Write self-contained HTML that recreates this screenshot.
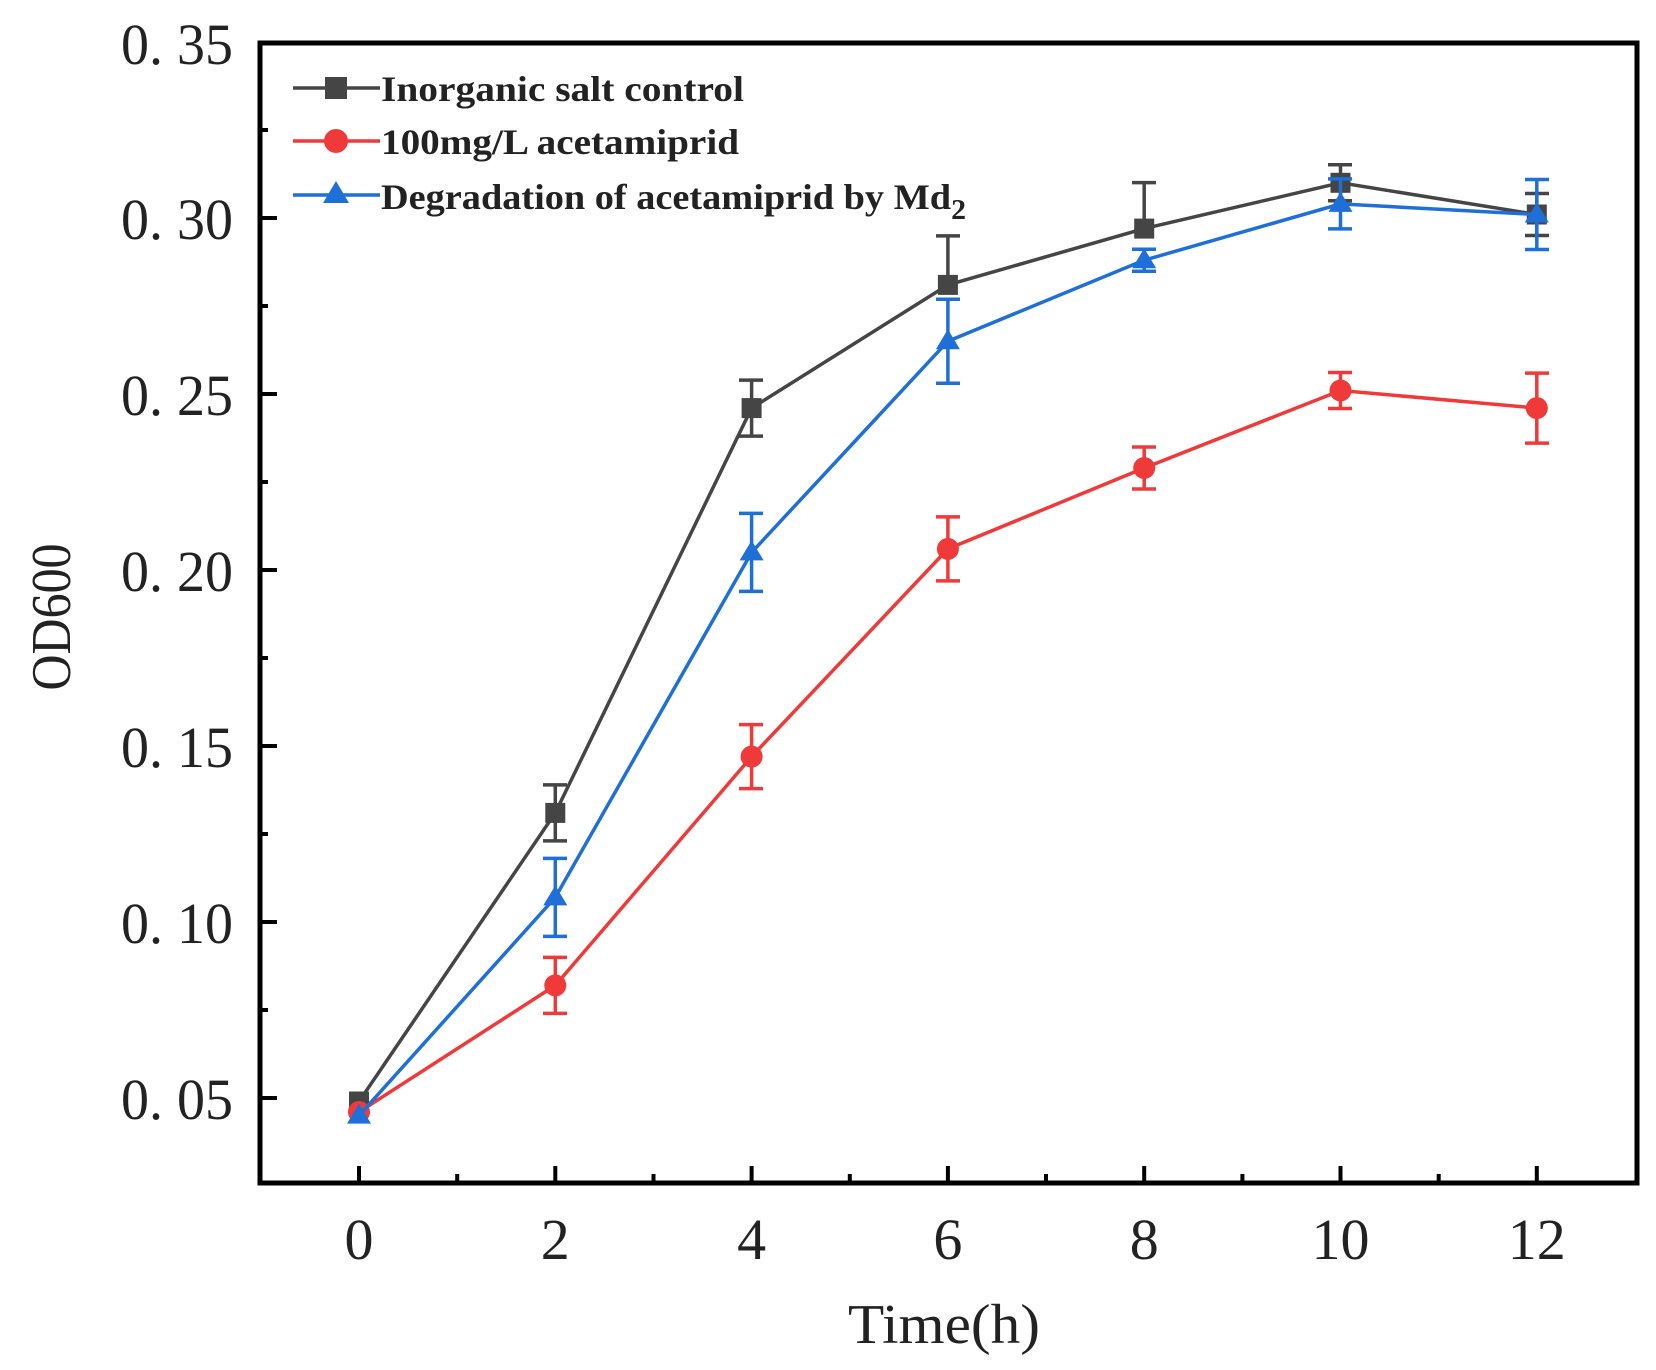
<!DOCTYPE html>
<html><head><meta charset="utf-8"><style>html,body{margin:0;padding:0;background:#fff}svg{display:block}</style></head>
<body>
<svg width="1656" height="1370" viewBox="0 0 1656 1370" xmlns="http://www.w3.org/2000/svg">
<rect width="1656" height="1370" fill="#fff"/>
<rect x="260" y="43" width="1377" height="1140" fill="none" stroke="#000" stroke-width="5"/>
<g stroke="#000" stroke-width="4">
<line x1="359" y1="1183" x2="359" y2="1166"/><line x1="555.3" y1="1183" x2="555.3" y2="1166"/>
<line x1="751.6" y1="1183" x2="751.6" y2="1166"/><line x1="947.9" y1="1183" x2="947.9" y2="1166"/>
<line x1="1144.2" y1="1183" x2="1144.2" y2="1166"/><line x1="1340.5" y1="1183" x2="1340.5" y2="1166"/>
<line x1="1536.8" y1="1183" x2="1536.8" y2="1166"/>
<line x1="457.2" y1="1183" x2="457.2" y2="1174"/><line x1="653.5" y1="1183" x2="653.5" y2="1174"/>
<line x1="849.8" y1="1183" x2="849.8" y2="1174"/><line x1="1046" y1="1183" x2="1046" y2="1174"/>
<line x1="1242.4" y1="1183" x2="1242.4" y2="1174"/><line x1="1438.7" y1="1183" x2="1438.7" y2="1174"/>
<line x1="260" y1="1098" x2="277" y2="1098"/><line x1="260" y1="922" x2="277" y2="922"/>
<line x1="260" y1="746" x2="277" y2="746"/><line x1="260" y1="570" x2="277" y2="570"/>
<line x1="260" y1="394" x2="277" y2="394"/><line x1="260" y1="218" x2="277" y2="218"/>
<line x1="260" y1="1010" x2="268" y2="1010"/><line x1="260" y1="834" x2="268" y2="834"/>
<line x1="260" y1="658" x2="268" y2="658"/><line x1="260" y1="482" x2="268" y2="482"/>
<line x1="260" y1="306" x2="268" y2="306"/><line x1="260" y1="130" x2="268" y2="130"/>
</g>
<g font-family="'Liberation Serif', serif" font-size="58" fill="#222" text-anchor="end">
<text x="233" y="1119" textLength="112" lengthAdjust="spacingAndGlyphs">0. 05</text>
<text x="233" y="943" textLength="112" lengthAdjust="spacingAndGlyphs">0. 10</text>
<text x="233" y="767" textLength="112" lengthAdjust="spacingAndGlyphs">0. 15</text>
<text x="233" y="591" textLength="112" lengthAdjust="spacingAndGlyphs">0. 20</text>
<text x="233" y="415" textLength="112" lengthAdjust="spacingAndGlyphs">0. 25</text>
<text x="233" y="239" textLength="112" lengthAdjust="spacingAndGlyphs">0. 30</text>
<text x="233" y="64" textLength="112" lengthAdjust="spacingAndGlyphs">0. 35</text>
</g>
<g font-family="'Liberation Serif', serif" font-size="58" fill="#222" text-anchor="middle">
<text x="359" y="1259">0</text><text x="555.3" y="1259">2</text><text x="751.6" y="1259">4</text>
<text x="947.9" y="1259">6</text><text x="1144.2" y="1259">8</text><text x="1340.5" y="1259">10</text>
<text x="1536.8" y="1259">12</text>
<text x="944" y="1343" font-size="56" textLength="192" lengthAdjust="spacingAndGlyphs">Time(h)</text>
<text transform="translate(70,617) rotate(-90)" font-size="56" textLength="147" lengthAdjust="spacingAndGlyphs">OD600</text>
</g>
<g stroke="#454545" stroke-width="3.5" fill="none">
<polyline points="359,1101.5 555.3,812.9 751.6,408.1 947.9,284.9 1144.2,228.6 1340.5,182.8 1536.8,214.5"/>
<path d="M555.3,784.9V840.9M543,784.9h24M543,840.9h24M751.6,380.1V436.1M739,380.1h24M739,436.1h24M947.9,235.9V284.9M936,235.9h24M1144.2,182.6V228.6M1132,182.6h24M1340.5,164.8V200.8M1328,164.8h24M1328,200.8h24M1536.8,193.5V235.5M1525,193.5h24M1525,235.5h24"/>
</g>
<g fill="#454545">
<rect x="349" y="1091.5" width="20" height="20"/><rect x="545.3" y="802.9" width="20" height="20"/>
<rect x="741.6" y="398.1" width="20" height="20"/><rect x="937.9" y="274.9" width="20" height="20"/>
<rect x="1134.2" y="218.6" width="20" height="20"/><rect x="1330.5" y="172.8" width="20" height="20"/>
<rect x="1526.8" y="204.5" width="20" height="20"/>
</g>
<g stroke="#f03a3a" stroke-width="3.5" fill="none">
<polyline points="359,1112 555.3,985.4 751.6,756.6 947.9,548.9 1144.2,468 1340.5,390.5 1536.8,408.1"/>
<path d="M555.3,957.4V1013.4M543,957.4h24M543,1013.4h24M751.6,724.6V788.6M739,724.6h24M739,788.6h24M947.9,516.9V580.9M936,516.9h24M936,580.9h24M1144.2,447V489M1132,447h24M1132,489h24M1340.5,372.5V408.5M1328,372.5h24M1328,408.5h24M1536.8,373.1V443.1M1525,373.1h24M1525,443.1h24"/>
</g>
<g fill="#f03a3a">
<circle cx="359" cy="1112" r="11"/><circle cx="555.3" cy="985.4" r="11"/><circle cx="751.6" cy="756.6" r="11"/>
<circle cx="947.9" cy="548.9" r="11"/><circle cx="1144.2" cy="468" r="11"/><circle cx="1340.5" cy="390.5" r="11"/>
<circle cx="1536.8" cy="408.1" r="11"/>
</g>
<g stroke="#1f6fd8" stroke-width="3.5" fill="none">
<polyline points="359,1115.6 555.3,897.4 751.6,552.4 947.9,341.2 1144.2,260.2 1340.5,203.9 1536.8,214.5"/>
<path d="M555.3,858.4V936.4M543,858.4h24M543,936.4h24M751.6,513.4V591.4M739,513.4h24M739,591.4h24M947.9,299.2V383.2M936,299.2h24M936,383.2h24M1144.2,249.2V271.2M1132,249.2h24M1132,271.2h24M1340.5,178.9V228.9M1328,178.9h24M1328,228.9h24M1536.8,179.5V249.5M1525,179.5h24M1525,249.5h24"/>
</g>
<g fill="#1f6fd8">
<path d="M359,1103.6l12,20h-24z"/><path d="M555.3,885.4l12,20h-24z"/><path d="M751.6,540.4l12,20h-24z"/>
<path d="M947.9,329.2l12,20h-24z"/><path d="M1144.2,248.2l12,20h-24z"/><path d="M1340.5,191.9l12,20h-24z"/>
<path d="M1536.8,202.5l12,20h-24z"/>
</g>
<g stroke-width="3.5">
<line x1="293" y1="88" x2="380" y2="88" stroke="#454545"/>
<line x1="293" y1="141" x2="380" y2="141" stroke="#f03a3a"/>
<line x1="293" y1="195" x2="380" y2="195" stroke="#1f6fd8"/>
</g>
<rect x="325" y="77" width="22" height="22" fill="#454545"/>
<circle cx="336" cy="141" r="12" fill="#f03a3a"/>
<path d="M336,181l13,22h-26z" fill="#1f6fd8"/>
<g font-family="'Liberation Serif', serif" font-weight="bold" font-size="36" fill="#222">
<text x="381" y="101" textLength="363" lengthAdjust="spacingAndGlyphs">Inorganic salt control</text>
<text x="381" y="154" textLength="358" lengthAdjust="spacingAndGlyphs">100mg/L acetamiprid</text>
<text x="381" y="209" textLength="585" lengthAdjust="spacingAndGlyphs">Degradation of acetamiprid by Md<tspan font-size="28" dy="10">2</tspan></text>
</g>
</svg>
</body></html>
